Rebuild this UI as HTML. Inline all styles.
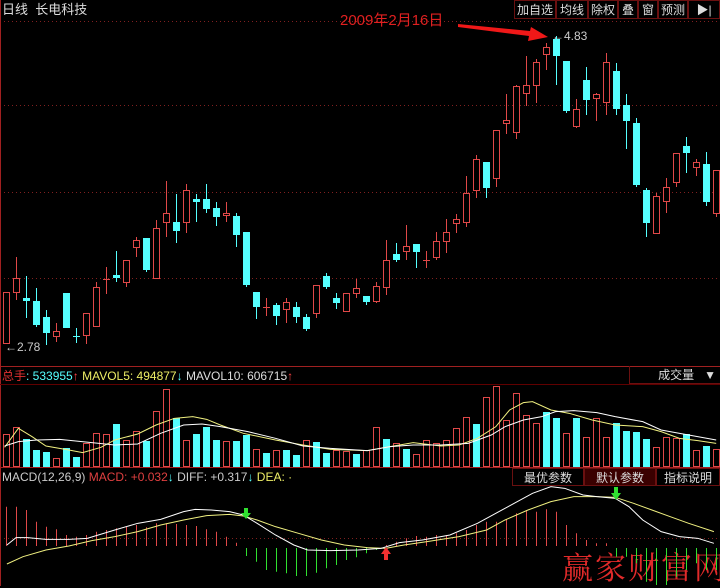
<!DOCTYPE html>
<html><head><meta charset="utf-8"><style>
html,body{margin:0;padding:0;background:#000;}
body{width:720px;height:586px;overflow:hidden;position:relative;font-family:"Liberation Sans","Noto Sans CJK SC",sans-serif;}
.t{position:absolute;white-space:nowrap;font-size:12px;line-height:14px;}
.btn{position:absolute;top:0;height:19px;border:1px solid #6a1010;color:#ddd;font-size:12px;line-height:19px;text-align:center;box-sizing:border-box;}
</style></head><body>
<svg width="720" height="586" style="position:absolute;left:0;top:0">
<g stroke="#802020" stroke-dasharray="1,3" stroke-width="1">
<line x1="0" y1="21.5" x2="720" y2="21.5"/>
<line x1="0" y1="105.5" x2="720" y2="105.5"/>
<line x1="0" y1="192.5" x2="720" y2="192.5"/>
<line x1="0" y1="278.5" x2="720" y2="278.5"/>
<line x1="0" y1="538.5" x2="720" y2="538.5"/>
</g>
<line x1="0.5" y1="0" x2="0.5" y2="586" stroke="#a02020"/>
<line x1="0" y1="366.5" x2="720" y2="366.5" stroke="#a02020"/>
<line x1="0" y1="384.5" x2="720" y2="384.5" stroke="#600000"/>
<line x1="0" y1="467.5" x2="720" y2="467.5" stroke="#a02020"/>
<g id="candles"></g>
</svg>
<svg width="720" height="586" style="position:absolute;left:0;top:0">
<!-- candles -->
<g stroke-width="1">
<path d="" />
</g>
</svg>
<svg width="720" height="586" style="position:absolute;left:0;top:0" id="main"></svg>
<div class="t" style="left:2px;top:3px;color:#ddd;font-size:13px">日线&nbsp; 长电科技</div>
<div class="btn" style="left:514px;width:42px">加自选</div>
<div class="btn" style="left:556px;width:32px">均线</div>
<div class="btn" style="left:588px;width:30px">除权</div>
<div class="btn" style="left:618px;width:20px">叠</div>
<div class="btn" style="left:638px;width:20px">窗</div>
<div class="btn" style="left:658px;width:30px">预测</div>
<div class="btn" style="left:688px;width:32px">▶|</div>
<div class="t" style="left:340px;top:12px;color:#e02020;font-size:15px;line-height:17px">2009年2月16日</div>
<div class="t" style="left:552px;top:29px;color:#ccc">←4.83</div>
<div class="t" style="left:5px;top:340px;color:#ccc">←2.78</div>
<div class="t" style="left:2px;top:369px;color:#e03030">总手<span style="color:#5ff">: 533955</span><span style="color:#f44">↑</span> <span style="color:#ee6"> MAVOL5: 494877</span><span style="color:#5ff">↓</span> <span style="color:#ddd"> MAVOL10: 606715</span><span style="color:#f44">↑</span></div>
<div style="position:absolute;left:629px;top:366px;width:91px;height:18px;border-left:1px solid #6a1010;border-bottom:1px solid #6a1010;color:#ddd;font-size:12px;line-height:18px;text-align:right;padding-right:4px;box-sizing:border-box">成交量 &nbsp;&nbsp;▼</div>
<div class="t" style="left:2px;top:470px;color:#ccc">MACD(12,26,9) <span style="color:#e04040">MACD: +0.032</span><span style="color:#5ff">↓</span> DIFF: +0.317<span style="color:#5ff">↓</span> <span style="color:#ee6">DEA: ·</span></div>
<div class="btn" style="top:468px;left:512px;width:72px;height:18px;line-height:18px">最优参数</div>
<div class="btn" style="top:468px;left:584px;width:72px;height:18px;line-height:18px;background:#3a0000">默认参数</div>
<div class="btn" style="top:468px;left:656px;width:64px;height:18px;line-height:18px">指标说明</div>
<div class="t" style="left:562px;top:548px;color:#e02a2a;font-size:31px;line-height:36px;letter-spacing:2px;font-family:'Noto Serif CJK SC','Liberation Serif',serif">赢家财富网</div>
<svg width="720" height="586" style="position:absolute;left:0;top:0">
<polygon points="458,24 530,31 531,27 548,37 528,41 529,36 458,27" fill="#f01818"/>
<g id="c" stroke-width="1"></g>
</svg>
<svg width="720" height="586" style="position:absolute;left:0;top:0">
<g fill="#000" stroke="#e04848">
</g>
<!-- generated candles -->
<g>
<line x1="6.5" y1="292" x2="6.5" y2="343" stroke="#e04848"/><rect x="3.5" y="292.5" width="6" height="51" fill="#000" stroke="#e04848"/>
<line x1="16.5" y1="257" x2="16.5" y2="300" stroke="#e04848"/><rect x="13.5" y="278.5" width="6" height="14" fill="#000" stroke="#e04848"/>
<line x1="26.5" y1="276" x2="26.5" y2="318" stroke="#55ffff"/><rect x="23" y="298" width="7" height="3" fill="#55ffff"/>
<line x1="36.5" y1="288" x2="36.5" y2="327" stroke="#55ffff"/><rect x="33" y="301" width="7" height="24" fill="#55ffff"/>
<line x1="46.5" y1="310" x2="46.5" y2="345" stroke="#55ffff"/><rect x="43" y="317" width="7" height="16" fill="#55ffff"/>
<line x1="56.5" y1="323" x2="56.5" y2="342" stroke="#e04848"/><rect x="53.5" y="331.5" width="6" height="5" fill="#000" stroke="#e04848"/>
<line x1="66.5" y1="293" x2="66.5" y2="328" stroke="#55ffff"/><rect x="63" y="293" width="7" height="35" fill="#55ffff"/>
<line x1="76.5" y1="328" x2="76.5" y2="343" stroke="#55ffff"/><rect x="73" y="336" width="7" height="1" fill="#55ffff"/>
<line x1="86.5" y1="313" x2="86.5" y2="344" stroke="#e04848"/><rect x="83.5" y="313.5" width="6" height="22" fill="#000" stroke="#e04848"/>
<line x1="96.5" y1="282" x2="96.5" y2="327" stroke="#e04848"/><rect x="93.5" y="287.5" width="6" height="39" fill="#000" stroke="#e04848"/>
<line x1="106.5" y1="267" x2="106.5" y2="294" stroke="#e04848"/><rect x="103" y="279" width="7" height="1" fill="#e04848"/>
<line x1="116.5" y1="251" x2="116.5" y2="282" stroke="#55ffff"/><rect x="113" y="275" width="7" height="3" fill="#55ffff"/>
<line x1="126.5" y1="260" x2="126.5" y2="287" stroke="#e04848"/><rect x="123.5" y="260.5" width="6" height="22" fill="#000" stroke="#e04848"/>
<line x1="136.5" y1="237" x2="136.5" y2="257" stroke="#e04848"/><rect x="133.5" y="240.5" width="6" height="7" fill="#000" stroke="#e04848"/>
<line x1="146.5" y1="238" x2="146.5" y2="272" stroke="#55ffff"/><rect x="143" y="238" width="7" height="32" fill="#55ffff"/>
<line x1="156.5" y1="220" x2="156.5" y2="278" stroke="#e04848"/><rect x="153.5" y="228.5" width="6" height="50" fill="#000" stroke="#e04848"/>
<line x1="166.5" y1="181" x2="166.5" y2="237" stroke="#e04848"/><rect x="163.5" y="213.5" width="6" height="9" fill="#000" stroke="#e04848"/>
<line x1="176.5" y1="194" x2="176.5" y2="243" stroke="#55ffff"/><rect x="173" y="222" width="7" height="9" fill="#55ffff"/>
<line x1="186.5" y1="184" x2="186.5" y2="233" stroke="#e04848"/><rect x="183.5" y="190.5" width="6" height="32" fill="#000" stroke="#e04848"/>
<line x1="196.5" y1="194" x2="196.5" y2="222" stroke="#55ffff"/><rect x="193" y="199" width="7" height="3" fill="#55ffff"/>
<line x1="206.5" y1="184" x2="206.5" y2="213" stroke="#55ffff"/><rect x="203" y="199" width="7" height="10" fill="#55ffff"/>
<line x1="216.5" y1="202" x2="216.5" y2="226" stroke="#55ffff"/><rect x="213" y="208" width="7" height="9" fill="#55ffff"/>
<line x1="226.5" y1="202" x2="226.5" y2="222" stroke="#e04848"/><rect x="223.5" y="213.5" width="6" height="2" fill="#000" stroke="#e04848"/>
<line x1="236.5" y1="213" x2="236.5" y2="247" stroke="#55ffff"/><rect x="233" y="216" width="7" height="19" fill="#55ffff"/>
<line x1="246.5" y1="232" x2="246.5" y2="287" stroke="#55ffff"/><rect x="243" y="232" width="7" height="53" fill="#55ffff"/>
<line x1="256.5" y1="292" x2="256.5" y2="319" stroke="#55ffff"/><rect x="253" y="292" width="7" height="15" fill="#55ffff"/>
<line x1="266.5" y1="298" x2="266.5" y2="316" stroke="#e04848"/><rect x="263" y="307" width="7" height="1" fill="#e04848"/>
<line x1="276.5" y1="303" x2="276.5" y2="325" stroke="#55ffff"/><rect x="273" y="305" width="7" height="11" fill="#55ffff"/>
<line x1="286.5" y1="298" x2="286.5" y2="323" stroke="#e04848"/><rect x="283.5" y="302.5" width="6" height="7" fill="#000" stroke="#e04848"/>
<line x1="296.5" y1="302" x2="296.5" y2="323" stroke="#55ffff"/><rect x="293" y="307" width="7" height="10" fill="#55ffff"/>
<line x1="306.5" y1="314" x2="306.5" y2="331" stroke="#55ffff"/><rect x="303" y="317" width="7" height="12" fill="#55ffff"/>
<line x1="316.5" y1="285" x2="316.5" y2="318" stroke="#e04848"/><rect x="313.5" y="285.5" width="6" height="28" fill="#000" stroke="#e04848"/>
<line x1="326.5" y1="273" x2="326.5" y2="289" stroke="#55ffff"/><rect x="323" y="276" width="7" height="11" fill="#55ffff"/>
<line x1="336.5" y1="293" x2="336.5" y2="309" stroke="#55ffff"/><rect x="333" y="298" width="7" height="5" fill="#55ffff"/>
<line x1="346.5" y1="293" x2="346.5" y2="311" stroke="#e04848"/><rect x="343.5" y="293.5" width="6" height="18" fill="#000" stroke="#e04848"/>
<line x1="356.5" y1="279" x2="356.5" y2="298" stroke="#e04848"/><rect x="353.5" y="288.5" width="6" height="5" fill="#000" stroke="#e04848"/>
<line x1="366.5" y1="296" x2="366.5" y2="305" stroke="#55ffff"/><rect x="363" y="296" width="7" height="6" fill="#55ffff"/>
<line x1="376.5" y1="282" x2="376.5" y2="303" stroke="#e04848"/><rect x="373.5" y="286.5" width="6" height="15" fill="#000" stroke="#e04848"/>
<line x1="386.5" y1="240" x2="386.5" y2="295" stroke="#e04848"/><rect x="383.5" y="260.5" width="6" height="27" fill="#000" stroke="#e04848"/>
<line x1="396.5" y1="243" x2="396.5" y2="262" stroke="#55ffff"/><rect x="393" y="254" width="7" height="6" fill="#55ffff"/>
<line x1="406.5" y1="225" x2="406.5" y2="260" stroke="#e04848"/><rect x="403.5" y="246.5" width="6" height="5" fill="#000" stroke="#e04848"/>
<line x1="416.5" y1="244" x2="416.5" y2="268" stroke="#55ffff"/><rect x="413" y="244" width="7" height="8" fill="#55ffff"/>
<line x1="426.5" y1="251" x2="426.5" y2="268" stroke="#e04848"/><rect x="423" y="260" width="7" height="1" fill="#e04848"/>
<line x1="436.5" y1="232" x2="436.5" y2="260" stroke="#e04848"/><rect x="433.5" y="241.5" width="6" height="16" fill="#000" stroke="#e04848"/>
<line x1="446.5" y1="219" x2="446.5" y2="253" stroke="#e04848"/><rect x="443.5" y="232.5" width="6" height="9" fill="#000" stroke="#e04848"/>
<line x1="456.5" y1="214" x2="456.5" y2="233" stroke="#e04848"/><rect x="453.5" y="219.5" width="6" height="4" fill="#000" stroke="#e04848"/>
<line x1="466.5" y1="176" x2="466.5" y2="227" stroke="#e04848"/><rect x="463.5" y="193.5" width="6" height="29" fill="#000" stroke="#e04848"/>
<line x1="476.5" y1="155" x2="476.5" y2="198" stroke="#e04848"/><rect x="473.5" y="159.5" width="6" height="31" fill="#000" stroke="#e04848"/>
<line x1="486.5" y1="162" x2="486.5" y2="198" stroke="#55ffff"/><rect x="483" y="162" width="7" height="26" fill="#55ffff"/>
<line x1="496.5" y1="130" x2="496.5" y2="187" stroke="#e04848"/><rect x="493.5" y="130.5" width="6" height="48" fill="#000" stroke="#e04848"/>
<line x1="506.5" y1="94" x2="506.5" y2="134" stroke="#e04848"/><rect x="503.5" y="120.5" width="6" height="3" fill="#000" stroke="#e04848"/>
<line x1="516.5" y1="85" x2="516.5" y2="139" stroke="#e04848"/><rect x="513.5" y="86.5" width="6" height="46" fill="#000" stroke="#e04848"/>
<line x1="526.5" y1="56" x2="526.5" y2="106" stroke="#e04848"/><rect x="523.5" y="85.5" width="6" height="8" fill="#000" stroke="#e04848"/>
<line x1="536.5" y1="59" x2="536.5" y2="103" stroke="#e04848"/><rect x="533.5" y="62.5" width="6" height="23" fill="#000" stroke="#e04848"/>
<line x1="546.5" y1="43" x2="546.5" y2="70" stroke="#e04848"/><rect x="543.5" y="47.5" width="6" height="7" fill="#000" stroke="#e04848"/>
<line x1="556.5" y1="36" x2="556.5" y2="85" stroke="#55ffff"/><rect x="553" y="39" width="7" height="17" fill="#55ffff"/>
<line x1="566.5" y1="61" x2="566.5" y2="113" stroke="#55ffff"/><rect x="563" y="61" width="7" height="50" fill="#55ffff"/>
<line x1="576.5" y1="99" x2="576.5" y2="128" stroke="#e04848"/><rect x="573.5" y="109.5" width="6" height="17" fill="#000" stroke="#e04848"/>
<line x1="586.5" y1="67" x2="586.5" y2="115" stroke="#55ffff"/><rect x="583" y="80" width="7" height="20" fill="#55ffff"/>
<line x1="596.5" y1="93" x2="596.5" y2="121" stroke="#e04848"/><rect x="593.5" y="94.5" width="6" height="4" fill="#000" stroke="#e04848"/>
<line x1="606.5" y1="53" x2="606.5" y2="115" stroke="#e04848"/><rect x="603.5" y="62.5" width="6" height="40" fill="#000" stroke="#e04848"/>
<line x1="616.5" y1="63" x2="616.5" y2="115" stroke="#55ffff"/><rect x="613" y="71" width="7" height="38" fill="#55ffff"/>
<line x1="626.5" y1="94" x2="626.5" y2="149" stroke="#55ffff"/><rect x="623" y="105" width="7" height="16" fill="#55ffff"/>
<line x1="636.5" y1="118" x2="636.5" y2="187" stroke="#55ffff"/><rect x="633" y="123" width="7" height="62" fill="#55ffff"/>
<line x1="646.5" y1="188" x2="646.5" y2="237" stroke="#55ffff"/><rect x="643" y="190" width="7" height="33" fill="#55ffff"/>
<line x1="656.5" y1="193" x2="656.5" y2="233" stroke="#e04848"/><rect x="653.5" y="196.5" width="6" height="37" fill="#000" stroke="#e04848"/>
<line x1="666.5" y1="178" x2="666.5" y2="213" stroke="#e04848"/><rect x="663.5" y="187.5" width="6" height="14" fill="#000" stroke="#e04848"/>
<line x1="676.5" y1="153" x2="676.5" y2="187" stroke="#e04848"/><rect x="673.5" y="153.5" width="6" height="29" fill="#000" stroke="#e04848"/>
<line x1="686.5" y1="137" x2="686.5" y2="173" stroke="#55ffff"/><rect x="683" y="146" width="7" height="7" fill="#55ffff"/>
<line x1="696.5" y1="159" x2="696.5" y2="176" stroke="#e04848"/><rect x="693.5" y="162.5" width="6" height="5" fill="#000" stroke="#e04848"/>
<line x1="706.5" y1="152" x2="706.5" y2="206" stroke="#55ffff"/><rect x="703" y="164" width="7" height="38" fill="#55ffff"/>
<line x1="716.5" y1="170" x2="716.5" y2="217" stroke="#e04848"/><rect x="713.5" y="170.5" width="6" height="43" fill="#000" stroke="#e04848"/>
</g>
<!-- volume -->
<g>
<rect x="3.5" y="434.5" width="6" height="32" fill="none" stroke="#e04848"/>
<rect x="13.5" y="427.5" width="6" height="39" fill="none" stroke="#e04848"/>
<rect x="23" y="439" width="7" height="28" fill="#55ffff"/>
<rect x="33" y="450" width="7" height="17" fill="#55ffff"/>
<rect x="43" y="452" width="7" height="15" fill="#55ffff"/>
<rect x="53.5" y="458.5" width="6" height="8" fill="none" stroke="#e04848"/>
<rect x="63" y="448" width="7" height="19" fill="#55ffff"/>
<rect x="73" y="457" width="7" height="10" fill="#55ffff"/>
<rect x="83.5" y="443.5" width="6" height="23" fill="none" stroke="#e04848"/>
<rect x="93.5" y="433.5" width="6" height="33" fill="none" stroke="#e04848"/>
<rect x="103.5" y="434.5" width="6" height="32" fill="none" stroke="#e04848"/>
<rect x="113" y="424" width="7" height="43" fill="#55ffff"/>
<rect x="123.5" y="440.5" width="6" height="26" fill="none" stroke="#e04848"/>
<rect x="133.5" y="431.5" width="6" height="35" fill="none" stroke="#e04848"/>
<rect x="143" y="441" width="7" height="26" fill="#55ffff"/>
<rect x="153.5" y="411.5" width="6" height="55" fill="none" stroke="#e04848"/>
<rect x="163.5" y="389.5" width="6" height="77" fill="none" stroke="#e04848"/>
<rect x="173" y="418" width="7" height="49" fill="#55ffff"/>
<rect x="183.5" y="440.5" width="6" height="26" fill="none" stroke="#e04848"/>
<rect x="193" y="434" width="7" height="33" fill="#55ffff"/>
<rect x="203" y="427" width="7" height="40" fill="#55ffff"/>
<rect x="213" y="440" width="7" height="27" fill="#55ffff"/>
<rect x="223.5" y="441.5" width="6" height="25" fill="none" stroke="#e04848"/>
<rect x="233" y="441" width="7" height="26" fill="#55ffff"/>
<rect x="243" y="435" width="7" height="32" fill="#55ffff"/>
<rect x="253.5" y="449.5" width="6" height="17" fill="none" stroke="#e04848"/>
<rect x="263" y="453" width="7" height="14" fill="#55ffff"/>
<rect x="273.5" y="450.5" width="6" height="16" fill="none" stroke="#e04848"/>
<rect x="283" y="450" width="7" height="17" fill="#55ffff"/>
<rect x="293" y="455" width="7" height="12" fill="#55ffff"/>
<rect x="303.5" y="440.5" width="6" height="26" fill="none" stroke="#e04848"/>
<rect x="313" y="442" width="7" height="25" fill="#55ffff"/>
<rect x="323" y="453" width="7" height="14" fill="#55ffff"/>
<rect x="333.5" y="450.5" width="6" height="16" fill="none" stroke="#e04848"/>
<rect x="343.5" y="451.5" width="6" height="15" fill="none" stroke="#e04848"/>
<rect x="353" y="454" width="7" height="13" fill="#55ffff"/>
<rect x="363.5" y="450.5" width="6" height="16" fill="none" stroke="#e04848"/>
<rect x="373.5" y="427.5" width="6" height="39" fill="none" stroke="#e04848"/>
<rect x="383" y="439" width="7" height="28" fill="#55ffff"/>
<rect x="393.5" y="443.5" width="6" height="23" fill="none" stroke="#e04848"/>
<rect x="403" y="449" width="7" height="18" fill="#55ffff"/>
<rect x="413.5" y="454.5" width="6" height="12" fill="none" stroke="#e04848"/>
<rect x="423.5" y="440.5" width="6" height="26" fill="none" stroke="#e04848"/>
<rect x="433.5" y="443.5" width="6" height="23" fill="none" stroke="#e04848"/>
<rect x="443.5" y="440.5" width="6" height="26" fill="none" stroke="#e04848"/>
<rect x="453.5" y="428.5" width="6" height="38" fill="none" stroke="#e04848"/>
<rect x="463.5" y="417.5" width="6" height="49" fill="none" stroke="#e04848"/>
<rect x="473" y="424" width="7" height="43" fill="#55ffff"/>
<rect x="483.5" y="397.5" width="6" height="69" fill="none" stroke="#e04848"/>
<rect x="493.5" y="386.5" width="6" height="80" fill="none" stroke="#e04848"/>
<rect x="503.5" y="420.5" width="6" height="46" fill="none" stroke="#e04848"/>
<rect x="513.5" y="393.5" width="6" height="73" fill="none" stroke="#e04848"/>
<rect x="523.5" y="415.5" width="6" height="51" fill="none" stroke="#e04848"/>
<rect x="533.5" y="423.5" width="6" height="43" fill="none" stroke="#e04848"/>
<rect x="543" y="412" width="7" height="55" fill="#55ffff"/>
<rect x="553" y="418" width="7" height="49" fill="#55ffff"/>
<rect x="563.5" y="433.5" width="6" height="33" fill="none" stroke="#e04848"/>
<rect x="573" y="418" width="7" height="49" fill="#55ffff"/>
<rect x="583.5" y="437.5" width="6" height="29" fill="none" stroke="#e04848"/>
<rect x="593.5" y="418.5" width="6" height="48" fill="none" stroke="#e04848"/>
<rect x="603.5" y="437.5" width="6" height="29" fill="none" stroke="#e04848"/>
<rect x="613" y="423" width="7" height="44" fill="#55ffff"/>
<rect x="623" y="431" width="7" height="36" fill="#55ffff"/>
<rect x="633" y="432" width="7" height="35" fill="#55ffff"/>
<rect x="643" y="439" width="7" height="28" fill="#55ffff"/>
<rect x="653.5" y="447.5" width="6" height="19" fill="none" stroke="#e04848"/>
<rect x="663.5" y="437.5" width="6" height="29" fill="none" stroke="#e04848"/>
<rect x="673.5" y="438.5" width="6" height="28" fill="none" stroke="#e04848"/>
<rect x="683" y="434" width="7" height="33" fill="#55ffff"/>
<rect x="693.5" y="450.5" width="6" height="16" fill="none" stroke="#e04848"/>
<rect x="703" y="446" width="7" height="21" fill="#55ffff"/>
<rect x="713.5" y="449.5" width="6" height="17" fill="none" stroke="#e04848"/>
</g>
<g transform="translate(0,360) scale(0.4591,0.3333)" fill="none">
<polyline vector-effect="non-scaling-stroke" stroke="#f0f080" stroke-width="1" points="10,262 40,205 70,230 100,258 150,270 180,278 220,262 250,240 300,222 340,195 380,175 420,170 450,178 480,195 530,220 600,240 660,255 720,268 800,272 840,262 900,248 960,258 1000,255 1040,235 1080,200 1110,150 1140,128 1160,125 1200,150 1240,160 1290,180 1340,195 1400,200 1440,215 1480,235 1520,242 1560,250"/>
<polyline vector-effect="non-scaling-stroke" stroke="#ffffff" stroke-width="1" points="10,258 40,245 80,240 130,238 200,248 250,255 300,252 350,220 400,195 440,192 480,200 540,215 600,235 660,258 720,265 800,272 850,260 900,255 960,255 1020,250 1070,225 1100,200 1140,180 1180,170 1210,155 1250,152 1300,158 1340,170 1400,185 1440,210 1500,225 1560,240"/>
</g>
<!-- MACD histogram -->
<g stroke="#e04848" stroke-width="1">
<line x1="6.5" y1="506.7" x2="6.5" y2="546"/><line x1="16.5" y1="506.7" x2="16.5" y2="546"/><line x1="26.5" y1="510" x2="26.5" y2="546"/><line x1="36.5" y1="521.7" x2="36.5" y2="546"/><line x1="46.5" y1="526.7" x2="46.5" y2="546"/><line x1="56.5" y1="529.3" x2="56.5" y2="546"/><line x1="66.5" y1="535" x2="66.5" y2="546"/><line x1="76.5" y1="536.7" x2="76.5" y2="546"/><line x1="86.5" y1="535" x2="86.5" y2="546"/><line x1="96.5" y1="531.7" x2="96.5" y2="546"/><line x1="106.5" y1="530" x2="106.5" y2="546"/><line x1="116.5" y1="528.3" x2="116.5" y2="546"/><line x1="126.5" y1="526.7" x2="126.5" y2="546"/><line x1="136.5" y1="525" x2="136.5" y2="546"/><line x1="146.5" y1="527.3" x2="146.5" y2="546"/><line x1="156.5" y1="523.3" x2="156.5" y2="546"/><line x1="166.5" y1="523.3" x2="166.5" y2="546"/><line x1="176.5" y1="524" x2="176.5" y2="546"/><line x1="186.5" y1="525" x2="186.5" y2="546"/><line x1="196.5" y1="526" x2="196.5" y2="546"/><line x1="206.5" y1="529.3" x2="206.5" y2="546"/><line x1="216.5" y1="531.7" x2="216.5" y2="546"/><line x1="226.5" y1="536.7" x2="226.5" y2="546"/><line x1="236.5" y1="542.7" x2="236.5" y2="546"/>
<line x1="386.5" y1="545" x2="386.5" y2="546"/><line x1="396.5" y1="541.7" x2="396.5" y2="546"/><line x1="406.5" y1="538.3" x2="406.5" y2="546"/><line x1="416.5" y1="536" x2="416.5" y2="546"/><line x1="426.5" y1="536.7" x2="426.5" y2="546"/><line x1="436.5" y1="535" x2="436.5" y2="546"/><line x1="446.5" y1="535" x2="446.5" y2="546"/><line x1="456.5" y1="533.3" x2="456.5" y2="546"/><line x1="466.5" y1="530" x2="466.5" y2="546"/><line x1="476.5" y1="525" x2="476.5" y2="546"/><line x1="486.5" y1="521.7" x2="486.5" y2="546"/><line x1="496.5" y1="521.7" x2="496.5" y2="546"/><line x1="506.5" y1="519.3" x2="506.5" y2="546"/><line x1="516.5" y1="513.3" x2="516.5" y2="546"/><line x1="526.5" y1="510" x2="526.5" y2="546"/><line x1="536.5" y1="511.7" x2="536.5" y2="546"/><line x1="546.5" y1="509.3" x2="546.5" y2="546"/><line x1="556.5" y1="511.7" x2="556.5" y2="546"/><line x1="566.5" y1="525" x2="566.5" y2="546"/><line x1="576.5" y1="533.3" x2="576.5" y2="546"/><line x1="586.5" y1="540" x2="586.5" y2="546"/><line x1="596.5" y1="543.3" x2="596.5" y2="546"/><line x1="606.5" y1="543.3" x2="606.5" y2="546"/>
</g>
<g stroke="#30e030" stroke-width="1">
<line x1="246.5" y1="548" x2="246.5" y2="556"/><line x1="256.5" y1="548" x2="256.5" y2="561.7"/><line x1="266.5" y1="548" x2="266.5" y2="570"/><line x1="276.5" y1="548" x2="276.5" y2="571.7"/><line x1="286.5" y1="548" x2="286.5" y2="573.3"/><line x1="296.5" y1="548" x2="296.5" y2="576"/><line x1="306.5" y1="548" x2="306.5" y2="576"/><line x1="316.5" y1="548" x2="316.5" y2="572.7"/><line x1="326.5" y1="548" x2="326.5" y2="568.3"/><line x1="336.5" y1="548" x2="336.5" y2="565"/><line x1="346.5" y1="548" x2="346.5" y2="560"/><line x1="356.5" y1="548" x2="356.5" y2="557.3"/><line x1="366.5" y1="548" x2="366.5" y2="553.3"/><line x1="376.5" y1="548" x2="376.5" y2="550"/>
<line x1="616.5" y1="548" x2="616.5" y2="556.7"/><line x1="626.5" y1="548" x2="626.5" y2="556.7"/><line x1="636.5" y1="548" x2="636.5" y2="563.3"/><line x1="646.5" y1="548" x2="646.5" y2="581.7"/><line x1="656.5" y1="548" x2="656.5" y2="585"/><line x1="666.5" y1="548" x2="666.5" y2="585"/><line x1="676.5" y1="548" x2="676.5" y2="576.7"/><line x1="686.5" y1="548" x2="686.5" y2="570"/><line x1="696.5" y1="548" x2="696.5" y2="563.3"/><line x1="706.5" y1="548" x2="706.5" y2="570"/><line x1="716.5" y1="548" x2="716.5" y2="570"/>
</g>
<g transform="translate(0,470) scale(0.4591,0.3333)" fill="none">
<polyline vector-effect="non-scaling-stroke" stroke="#f0f080" stroke-width="1" points="15,282 50,260 100,240 150,228 200,212 250,200 300,185 350,165 400,150 450,137 500,133 530,138 560,150 600,170 650,190 700,210 750,225 800,233 840,235 880,225 930,215 1000,200 1060,180 1100,150 1150,120 1200,95 1250,80 1300,80 1340,82 1380,100 1420,120 1460,140 1500,160 1555,185"/>
<polyline vector-effect="non-scaling-stroke" stroke="#ffffff" stroke-width="1" points="15,225 35,203 60,203 100,208 150,208 190,205 250,180 300,160 350,148 400,125 425,118 460,120 500,125 530,135 560,160 600,195 640,225 670,240 720,242 780,240 830,235 870,218 920,210 980,195 1040,160 1080,130 1120,100 1160,70 1200,50 1230,55 1270,75 1300,80 1340,85 1370,110 1400,150 1440,185 1480,200 1520,205 1555,220"/>
</g>
<!-- signal arrows -->
<polygon points="244,508 248,508 248,513 251,513 246,519 241,513 244,513" fill="#30e030"/>
<polygon points="614,487 618,487 618,493 621,493 616,500 611,493 614,493" fill="#30e030"/>
<polygon points="384,560 388,560 388,554 391,554 386,547 381,554 384,554" fill="#f03030"/>
</svg>
</body></html>
